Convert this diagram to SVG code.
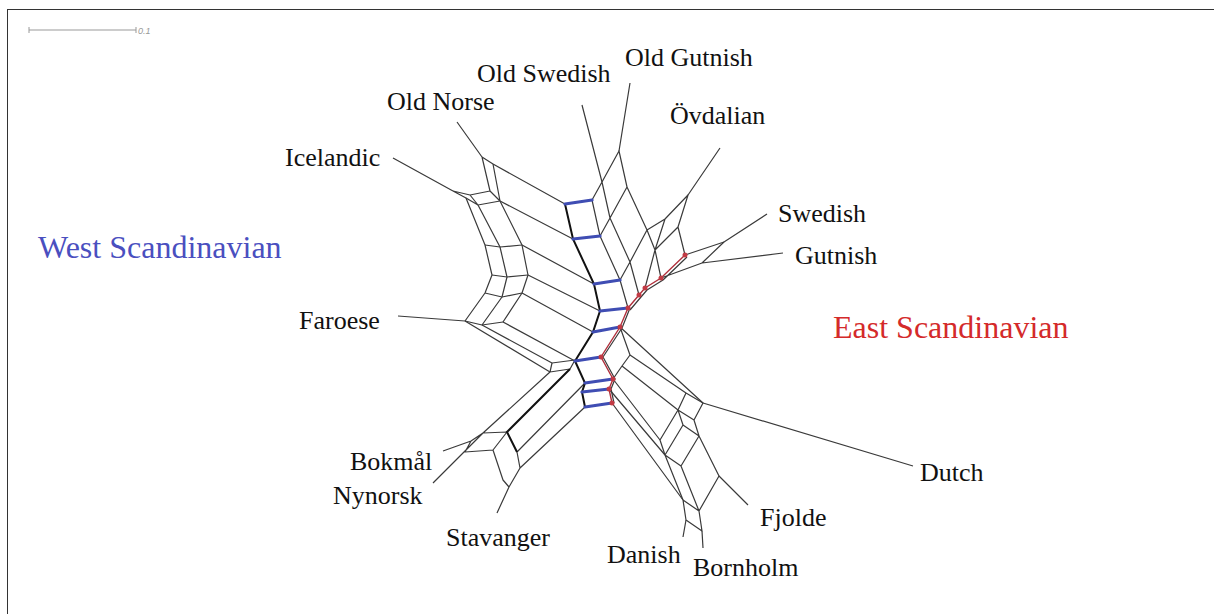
<svg xmlns="http://www.w3.org/2000/svg" width="1214" height="614" viewBox="0 0 1214 614">
<style>
.lbl{font-family:"Liberation Serif","Times New Roman",serif;font-size:26px;fill:#111}
.grp{font-family:"Liberation Serif","Times New Roman",serif;font-size:32px}
.e{fill:none;stroke:#3a3a3a;stroke-width:1.2;stroke-linejoin:round}
.thick{fill:none;stroke:#111;stroke-width:2}
.rung{fill:none;stroke:#3f4db3;stroke-width:3.2;stroke-linecap:round}
.red{fill:none;stroke:#b0303c;stroke-width:1.4}
.dot{fill:#c23a44}
</style>
<rect x="7.5" y="9.5" width="1220" height="620" fill="#fff" stroke="#333" stroke-width="1"/>
<g id="scale-bar">
<path d="M29,30H136M29,27V33M136,27V33" stroke="#999" stroke-width="1" fill="none"/>
<text x="138" y="34" font-family="Liberation Sans,Arial,sans-serif" font-size="9" font-style="italic" fill="#999">0.1</text>
</g>
<g id="connectors">
<!-- west norse cluster -->
<path class="e" d="M393,158L453,191M457,122L482,157M398,316L465,321"/>
<path class="e" d="M482,157L493,164M482,157L490,191M493,164L500,201M453,191L470,195L490,191M453,191L466,198L478,205L500,201M470,195L478,205M490,191L500,201"/>
<path class="e" d="M466,198L485,245L492,275L485,293L465,321M478,205L500,247L507,277L502,297L482,325M500,201L522,245L528,275L522,293L503,322"/>
<path class="e" d="M485,245L500,247L522,245M492,275L507,277L528,275M485,293L502,297L522,293M465,321L482,325L503,322"/>
<path class="e" d="M493,164L565,204M500,201L573,239M522,245L594,284M528,275L600,311M522,293L593,332M503,322L575,361M482,325L552,363M465,321L550,372"/>
<path class="e" d="M552,363L575,360M550,372L570,369M552,363L550,372M570,369L575,360"/>
<!-- south-west cluster -->
<path class="e" d="M550,372L483,433L433,483M443,451L471,441L483,433M471,441L465,452L493,450L507,432M483,433L507,432M517,452L520,468L509,487L497,513M493,450L503,480L509,487M585,383L517,452M585,407L520,468"/>
<path class="thick" d="M570,369L507,432L517,452"/>
<!-- central spine -->
<path class="thick" d="M565,204L573,239L594,284L600,311L593,332L575,361L585,383L582,392L585,407"/>
<path class="e" d="M592,200L600,236L620,280L628,308"/>
<path class="red" d="M628,308L620,327L601,357L613,379L609,389L612,403"/>
<path class="e" d="M630,308L622,328L603,357L615,379L611,389L614,403"/>
<!-- east cluster -->
<path class="e" d="M582,105L602,182M630,83L619,151M720,148L688,195M767,214L724,242M783,253L702,263M724,242L702,263"/>
<path class="e" d="M592,200L602,182L619,151L627,187L610,218L602,182M600,236L610,218L630,262L620,280M627,187L647,230L630,262L639,295M647,230L655,250L645,288M647,230L665,219L688,195L678,227L685,255M665,219L655,250L661,278M678,227L655,250"/>
<path class="red" d="M628,308L639,295L645,288L661,278L685,255"/>
<path class="e" d="M630,310L641,297L647,290L663,280L687,257M685,255L724,242M661,278L702,263"/>
<!-- south-east cluster -->
<path class="e" d="M620,327L703,403M620,327L630,355L622,366L613,379M630,355L686,393M622,366L678,410M613,379L660,440M609,389L665,455M612,403L683,500"/>
<path class="e" d="M686,393L703,403L694,420L678,410L686,393M678,410L683,425L699,436L694,420M683,425L665,455L660,440L678,410M699,436L681,466L665,455M699,436L719,476L699,511L681,466M665,455L683,500L699,511L702,531L686,520L683,500"/>
<path class="e" d="M703,403L913,466M719,476L748,505M686,520L683,537M702,531L703,548"/>
<!-- east/west split -->
<path class="rung" d="M565,204L592,200M573,239L600,236M594,284L620,280M600,311L628,308M593,332L620,327M575,361L601,357M585,383L613,379M582,392L609,389M585,407L612,403"/>
<g class="dot">
<circle cx="685" cy="255" r="2.5"/><circle cx="661" cy="278" r="2.5"/><circle cx="645" cy="288" r="2.5"/><circle cx="639" cy="295" r="2.5"/><circle cx="628" cy="308" r="2.5"/><circle cx="620" cy="327" r="2.5"/><circle cx="601" cy="357" r="2.5"/><circle cx="613" cy="379" r="2.5"/><circle cx="609" cy="389" r="2.5"/><circle cx="612" cy="403" r="2.5"/>
</g>
</g>
<g id="node-old-swedish"><text class="lbl" x="477" y="82">Old Swedish</text></g>
<g id="node-old-gutnish"><text class="lbl" x="625" y="66">Old Gutnish</text></g>
<g id="node-old-norse"><text class="lbl" x="387" y="110">Old Norse</text></g>
<g id="node-ovdalian"><text class="lbl" x="670" y="124">Övdalian</text></g>
<g id="node-icelandic"><text class="lbl" x="285" y="166">Icelandic</text></g>
<g id="node-swedish"><text class="lbl" x="778" y="222">Swedish</text></g>
<g id="node-gutnish"><text class="lbl" x="795" y="264">Gutnish</text></g>
<g id="node-faroese"><text class="lbl" x="299" y="329">Faroese</text></g>
<g id="node-bokmal"><text class="lbl" x="350" y="470">Bokmål</text></g>
<g id="node-nynorsk"><text class="lbl" x="333" y="504">Nynorsk</text></g>
<g id="node-stavanger"><text class="lbl" x="446" y="546">Stavanger</text></g>
<g id="node-danish"><text class="lbl" x="607" y="563">Danish</text></g>
<g id="node-bornholm"><text class="lbl" x="693" y="576">Bornholm</text></g>
<g id="node-fjolde"><text class="lbl" x="760" y="526">Fjolde</text></g>
<g id="node-dutch"><text class="lbl" x="920" y="481">Dutch</text></g>
<g id="group-west"><text class="grp" x="38" y="258" fill="#4a4fbf">West Scandinavian</text></g>
<g id="group-east"><text class="grp" x="833" y="338" fill="#d42a2a">East Scandinavian</text></g>
</svg>
